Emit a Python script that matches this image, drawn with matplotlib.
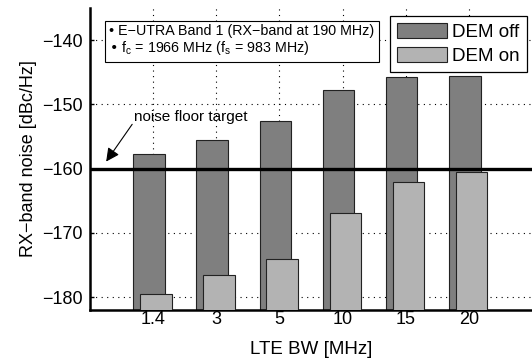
import matplotlib
matplotlib.use("Agg")
import matplotlib.pyplot as plt
import numpy as np

plt.rcParams['font.family'] = ['Liberation Sans', 'DejaVu Sans']
plt.rcParams['axes.unicode_minus'] = True

categories = ["1.4", "3", "5", "10", "15", "20"]
dem_off = [-157.7, -155.6, -152.6, -147.8, -145.7, -145.6]
dem_on = [-179.5, -176.5, -174.0, -166.9, -162.1, -160.6]
noise_floor = -160
yticks = [-180, -170, -160, -150, -140]

W, H = 532, 360
fig = plt.figure(figsize=(W / 100, H / 100), dpi=100)
ax = fig.add_axes([90 / W, (H - 310) / H, 1 - 90 / W, (310 - 8) / H])

x = np.arange(1, len(categories) + 1)
base = -200
ax.bar(x - 0.065, np.array(dem_off) - base, bottom=base, width=0.5,
       color='#7f7f7f', edgecolor='#222222', linewidth=0.8, label='DEM off', zorder=2)
ax.bar(x + 0.045, np.array(dem_on) - base, bottom=base, width=0.5,
       color='#b3b3b3', edgecolor='#222222', linewidth=0.8, label='DEM on', zorder=3)

ax.axhline(noise_floor, color='black', linewidth=2.4, zorder=4)

ax.set_xlim(0, 7)
ax.set_ylim(-182, -135)
ax.set_xticks(x)
ax.set_xticklabels(categories)
ax.set_yticks(yticks)
ax.tick_params(axis='both', direction='in', labelsize=13, length=3, width=1)
ax.tick_params(axis='y', pad=5)
ax.tick_params(axis='x', length=0, pad=1)
ax.grid(True, linestyle=(0, (1, 4)), color='black', linewidth=0.8, zorder=0)
ax.set_axisbelow(True)

for s in ['top', 'right']:
    ax.spines[s].set_visible(False)
for s in ['left', 'bottom']:
    ax.spines[s].set_linewidth(1.8)

ax.set_ylabel('RX−band noise [dBc/Hz]', fontsize=13, labelpad=4)
ax.set_xlabel('LTE BW [MHz]', fontsize=13.5, labelpad=9)

ax.text(1.60, -151.9, 'noise floor target', fontsize=11, ha='center', va='center', zorder=5)
ax.annotate('', xy=(0.256, -158.9), xytext=(0.668, -153.1),
            arrowprops=dict(arrowstyle='-|>', color='black', lw=0.8,
                            mutation_scale=20, shrinkA=0, shrinkB=0), zorder=5)

fig.text(109 / W, 1 - 40.5 / H,
         '• E−UTRA Band 1 (RX−band at 190 MHz)\n• f$_\\mathregular{c}$ = 1966 MHz (f$_\\mathregular{s}$ = 983 MHz)',
         fontsize=10.3, va='center', ha='left', linespacing=1.15,
         bbox=dict(boxstyle='square,pad=0.3', facecolor='white', edgecolor='black', linewidth=0.8),
         zorder=10)

leg = ax.legend(loc='upper right', bbox_to_anchor=(527 / W, 1 - 16 / H),
                bbox_transform=fig.transFigure, fontsize=13.5, frameon=True,
                fancybox=False, edgecolor='black', framealpha=1,
                handlelength=2.67, handleheight=0.85, handletextpad=0.27,
                borderpad=0.37, labelspacing=0.32, borderaxespad=0)
leg.get_frame().set_linewidth(0.9)
leg.set_zorder(10)

fig.savefig('out.png', dpi=100)
